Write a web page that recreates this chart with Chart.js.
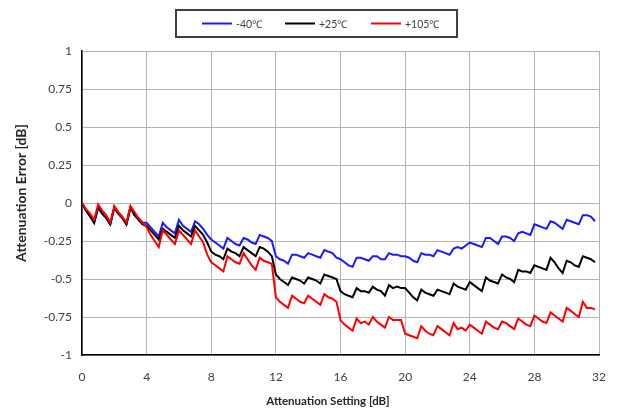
<!DOCTYPE html>
<html>
<head>
<meta charset="utf-8">
<script src="https://cdn.jsdelivr.net/npm/chart.js@4"></script>
<style>
  body { margin:0; background:#fff; }
  canvas { display:block; }
</style>
</head>
<body>
<canvas id="chart" width="617" height="408"></canvas>
<script>
// attenuation settings, 0.25 dB steps
const settings = [
  0,0.25,0.5,0.75, 1,1.25,1.5,1.75, 2,2.25,2.5,2.75, 3,3.25,3.5,3.75,
  4,4.25,4.5,4.75, 5,5.25,5.5,5.75, 6,6.25,6.5,6.75, 7,7.25,7.5,7.75,
  8,8.25,8.5,8.75, 9,9.25,9.5,9.75, 10,10.25,10.5,10.75, 11,11.25,11.5,11.75,
  12,12.25,12.5,12.75, 13,13.25,13.5,13.75, 14,14.25,14.5,14.75, 15,15.25,15.5,15.75,
  16,16.25,16.5,16.75, 17,17.25,17.5,17.75, 18,18.25,18.5,18.75, 19,19.25,19.5,19.75,
  20,20.25,20.5,20.75, 21,21.25,21.5,21.75, 22,22.25,22.5,22.75, 23,23.25,23.5,23.75,
  24,24.25,24.5,24.75, 25,25.25,25.5,25.75, 26,26.25,26.5,26.75, 27,27.25,27.5,27.75,
  28,28.25,28.5,28.75, 29,29.25,29.5,29.75, 30,30.25,30.5,30.75, 31,31.25,31.5,31.75
];

const errMinus40 = [
  0,-0.05,-0.08,-0.13, -0.03,-0.07,-0.10,-0.14, -0.03,-0.07,-0.10,-0.14, -0.03,-0.08,-0.10,-0.13,
  -0.13,-0.16,-0.19,-0.22, -0.13,-0.16,-0.18,-0.20, -0.11,-0.15,-0.17,-0.19, -0.12,-0.14,-0.17,-0.21,
  -0.24,-0.26,-0.28,-0.30, -0.23,-0.25,-0.27,-0.28, -0.23,-0.24,-0.26,-0.27, -0.21,-0.22,-0.23,-0.25,
  -0.35,-0.37,-0.38,-0.40, -0.34,-0.34,-0.35,-0.36, -0.33,-0.34,-0.35,-0.36, -0.31,-0.32,-0.33,-0.36,
  -0.37,-0.39,-0.41,-0.42, -0.36,-0.36,-0.37,-0.38, -0.35,-0.35,-0.37,-0.37, -0.33,-0.34,-0.34,-0.35,
  -0.35,-0.36,-0.38,-0.39, -0.33,-0.34,-0.34,-0.35, -0.31,-0.32,-0.33,-0.34, -0.30,-0.29,-0.30,-0.28,
  -0.26,-0.27,-0.28,-0.29, -0.23,-0.23,-0.25,-0.27, -0.22,-0.22,-0.23,-0.25, -0.20,-0.19,-0.20,-0.21,
  -0.14,-0.15,-0.16,-0.17, -0.12,-0.13,-0.15,-0.17, -0.11,-0.12,-0.13,-0.14, -0.08,-0.08,-0.09,-0.12
];

const err25 = [
  0,-0.05,-0.09,-0.13, -0.03,-0.07,-0.10,-0.14, -0.03,-0.07,-0.10,-0.14, -0.03,-0.08,-0.11,-0.14,
  -0.15,-0.18,-0.21,-0.24, -0.17,-0.19,-0.21,-0.23, -0.15,-0.18,-0.20,-0.22, -0.15,-0.18,-0.21,-0.26,
  -0.32,-0.34,-0.35,-0.37, -0.30,-0.32,-0.33,-0.35, -0.29,-0.31,-0.33,-0.35, -0.29,-0.30,-0.32,-0.35,
  -0.47,-0.50,-0.52,-0.54, -0.49,-0.50,-0.51,-0.53, -0.49,-0.50,-0.51,-0.53, -0.47,-0.48,-0.49,-0.50,
  -0.58,-0.60,-0.61,-0.62, -0.56,-0.58,-0.58,-0.59, -0.55,-0.57,-0.58,-0.61, -0.54,-0.56,-0.55,-0.56,
  -0.56,-0.59,-0.62,-0.64, -0.57,-0.59,-0.60,-0.61, -0.57,-0.58,-0.59,-0.60, -0.53,-0.55,-0.56,-0.57,
  -0.52,-0.54,-0.56,-0.58, -0.49,-0.51,-0.52,-0.53, -0.47,-0.49,-0.50,-0.52, -0.44,-0.45,-0.45,-0.46,
  -0.41,-0.42,-0.43,-0.44, -0.36,-0.39,-0.43,-0.46, -0.38,-0.39,-0.41,-0.42, -0.35,-0.36,-0.37,-0.39
];

const err105 = [
  0,-0.04,-0.07,-0.11, -0.01,-0.05,-0.08,-0.13, -0.02,-0.06,-0.09,-0.13, -0.02,-0.06,-0.10,-0.13,
  -0.16,-0.21,-0.25,-0.29, -0.18,-0.21,-0.24,-0.27, -0.18,-0.21,-0.24,-0.27, -0.18,-0.22,-0.26,-0.34,
  -0.39,-0.41,-0.43,-0.45, -0.35,-0.37,-0.39,-0.40, -0.33,-0.37,-0.41,-0.44, -0.36,-0.38,-0.39,-0.40,
  -0.62,-0.65,-0.67,-0.69, -0.61,-0.63,-0.65,-0.66, -0.61,-0.63,-0.65,-0.67, -0.60,-0.62,-0.63,-0.65,
  -0.77,-0.80,-0.82,-0.84, -0.76,-0.79,-0.78,-0.80, -0.75,-0.78,-0.80,-0.82, -0.75,-0.77,-0.77,-0.77,
  -0.86,-0.87,-0.88,-0.89, -0.81,-0.84,-0.86,-0.87, -0.81,-0.83,-0.85,-0.87, -0.79,-0.83,-0.82,-0.84,
  -0.80,-0.82,-0.84,-0.86, -0.78,-0.80,-0.82,-0.83, -0.78,-0.79,-0.81,-0.83, -0.76,-0.78,-0.80,-0.81,
  -0.74,-0.76,-0.78,-0.79, -0.72,-0.74,-0.76,-0.78, -0.69,-0.71,-0.73,-0.75, -0.65,-0.69,-0.69,-0.70
];

const seriesNames = ["-40℃", "+25℃", "+105℃"];
const seriesColors = ["#1a1aff", "#000000", "#ff0000"];
const yTicks = [1, 0.75, 0.5, 0.25, 0, -0.25, -0.5, -0.75, -1];
const xTitle = "Attenuation Setting [dB]";
const yTitle = "Attenuation Error [dB]";

const FONT = "Lato, 'Open Sans', sans-serif";

function pts(vals){
  return vals.map((v,i) => ({ x: settings[i], y: v }));
}

// boxed legend above the plot, like the Excel original
const legendBox = { left: 176, top: 10, right: 457, bottom: 37 };
const legendItemX = [202, 285, 371];

const boxLegend = {
  id: "boxLegend",
  afterDraw(c){
    const ctx = c.ctx;
    ctx.save();
    ctx.strokeStyle = "#404040";
    ctx.lineWidth = 2;
    ctx.strokeRect(legendBox.left, legendBox.top, legendBox.right - legendBox.left, legendBox.bottom - legendBox.top);
    const y = (legendBox.top + legendBox.bottom) / 2;
    ctx.font = "10.5px " + FONT;
    ctx.textBaseline = "middle";
    c.data.datasets.forEach((d,i) => {
      const x = legendItemX[i];
      ctx.strokeStyle = d.borderColor;
      ctx.lineWidth = 2;
      ctx.beginPath();
      ctx.moveTo(x, y); ctx.lineTo(x + 30, y);
      ctx.stroke();
      ctx.fillStyle = "#404040";
      ctx.fillText(d.label, x + 34, y + 1);
    });
    ctx.restore();
  }
};

// axis titles sit a little off-centre in the original, so draw them here
const axisTitles = {
  id: "axisTitles",
  afterDraw(c){
    const ctx = c.ctx;
    ctx.save();
    ctx.fillStyle = "#262626";
    ctx.textAlign = "center";
    ctx.textBaseline = "middle";
    ctx.font = "bold 11.5px " + FONT;
    ctx.fillText(xTitle, 328, 401);
    ctx.font = "bold 14px " + FONT;
    ctx.translate(21, 193);
    ctx.rotate(-Math.PI / 2);
    ctx.fillText(yTitle, 0, 0);
    ctx.restore();
  }
};

const datasets = [errMinus40, err25, err105].map((vals,i) => ({
  label: seriesNames[i],
  data: pts(vals),
  borderColor: seriesColors[i],
  borderWidth: 2,
  pointRadius: 0,
  tension: 0,
  fill: false,
  order: 2 - i
}));

new Chart(document.getElementById("chart"), {
  type: "line",
  data: { datasets },
  plugins: [boxLegend, axisTitles],
  options: {
    responsive: false,
    animation: false,
    layout: { padding: { top: 51, right: 18, bottom: 0, left: 0 } },
    plugins: { legend: { display: false }, tooltip: { enabled: false } },
    scales: {
      x: {
        type: "linear",
        min: 0, max: 32,
        afterFit(s){ s.height = 53; },
        // gap under the axis comes from invisible tick marks, so the
        // right edge is not pushed in by the label padding
        ticks: { stepSize: 4, padding: 1, color: "#404040", font: { family: FONT, size: 12 } },
        grid: { color: "#b4b4b4", lineWidth: 1, drawTicks: true, tickLength: 14, tickColor: "rgba(0,0,0,0)" },
        border: { color: "#000", width: 1.5 }
      },
      y: {
        min: -1, max: 1,
        afterFit(s){ s.width = 82; },
        afterBuildTicks(s){ s.ticks = yTicks.map(v => ({ value: v })); },
        ticks: { padding: 10, color: "#404040", font: { family: FONT, size: 12 }, callback: v => String(v) },
        grid: { color: "#b4b4b4", lineWidth: 1, drawTicks: false },
        border: { color: "#000", width: 1.5 }
      }
    }
  }
});
</script>
</body>
</html>
